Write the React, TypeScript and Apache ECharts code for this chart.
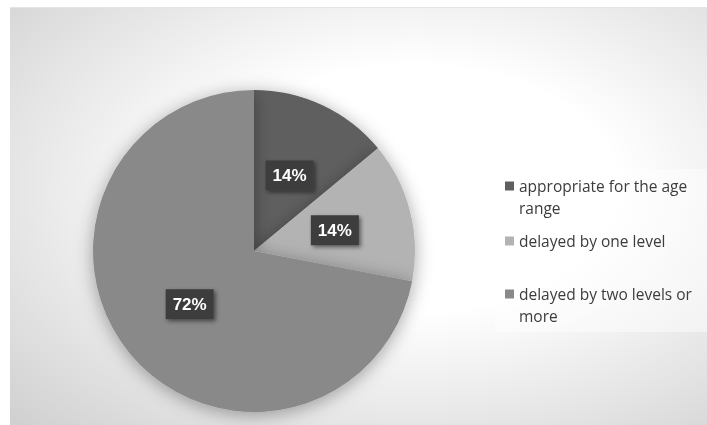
import React, { useEffect, useRef } from "react";
import * as echarts from "echarts";

const categories = [
  "appropriate for the age range",
  "delayed by one level",
  "delayed by two levels or more",
];
const values = [14, 14, 72];
const sliceColors = ["#5f5f5f", "#b3b3b3", "#898989"];
const legendFirstLines = ["appropriate for the age", "delayed by one level", "delayed by two levels or"];
const legendSecondLines = ["range", "", "more"];
const legendCenters = [186, 241, 294];

export default function App() {
  const ref = useRef<HTMLDivElement>(null);
  useEffect(() => {
    if (!ref.current) return;
    const chart = echarts.init(ref.current, null, { renderer: "svg" });
    const fontFamily = "'Open Sans', 'Liberation Sans', sans-serif";
    const legends = categories.map((name, i) => ({
      data: [name],
      orient: "vertical",
      left: 505,
      top: legendCenters[i] - 10,
      padding: 0,
      icon: "rect",
      itemWidth: 9,
      itemHeight: 9,
      formatter: () => legendFirstLines[i],
      selectedMode: false,
      textStyle: { color: "#3c3c3c", fontSize: 15.5, fontFamily, lineHeight: 20 },
    }));
    const secondLines = legendSecondLines
      .map((t, i) => ({ t, i }))
      .filter((o) => o.t)
      .map((o) => ({
        type: "text",
        left: 519,
        top: legendCenters[o.i] + 12,
        z: 10,
        style: { text: o.t, fill: "#3c3c3c", font: `15.5px ${fontFamily}`, lineHeight: 20 },
      }));
    chart.setOption({
      animation: false,
      color: sliceColors,
      graphic: [
        {
          type: "rect",
          shape: { x: 10, y: 8, width: 720, height: 430 },
          z: -10,
          style: {
            fill: {
              type: "radial",
              x: 0.56,
              y: 0.42,
              r: 0.95,
              colorStops: [
                { offset: 0, color: "#ffffff" },
                { offset: 0.3, color: "#ffffff" },
                { offset: 1, color: "#c0c0c0" },
              ],
            },
          },
        },
        {
          type: "line",
          shape: { x1: 10, y1: 7.5, x2: 707, y2: 7.5 },
          z: -9,
          style: { stroke: "#e4e4e4", lineWidth: 1 },
        },
        {
          type: "rect",
          shape: { x: 495, y: 169, width: 230, height: 163 },
          z: -5,
          style: { fill: "rgba(255,255,255,0.45)" },
        },
        ...secondLines,
      ],
      legend: legends,
      series: [
        {
          type: "pie",
          center: [254, 251],
          radius: 161,
          startAngle: 90,
          clockwise: true,
          percentPrecision: 0,
          data: categories.map((name, i) => ({ name, value: values[i] })),
          itemStyle: {
            shadowBlur: 18,
            shadowColor: "rgba(0,0,0,0.35)",
            shadowOffsetY: 3,
          },
          emphasis: { disabled: true },
          labelLine: { show: false },
          label: {
            show: true,
            position: "inside",
            formatter: "{d}%",
            color: "#ffffff",
            fontWeight: "bold",
            fontSize: 17,
            fontFamily: "'Liberation Sans', Arial, sans-serif",
            backgroundColor: "#3e3e3e",
            padding: [7, 7, 6, 7],
            shadowColor: "rgba(0,0,0,0.5)",
            shadowBlur: 4,
            shadowOffsetX: 2,
            shadowOffsetY: 2,
          },
        },
      ],
    });
    return () => chart.dispose();
  }, []);
  return (
    <div
      ref={ref}
      style={{ position: "fixed", left: 0, top: 0, width: 707, height: 425 }}
    />
  );
}
